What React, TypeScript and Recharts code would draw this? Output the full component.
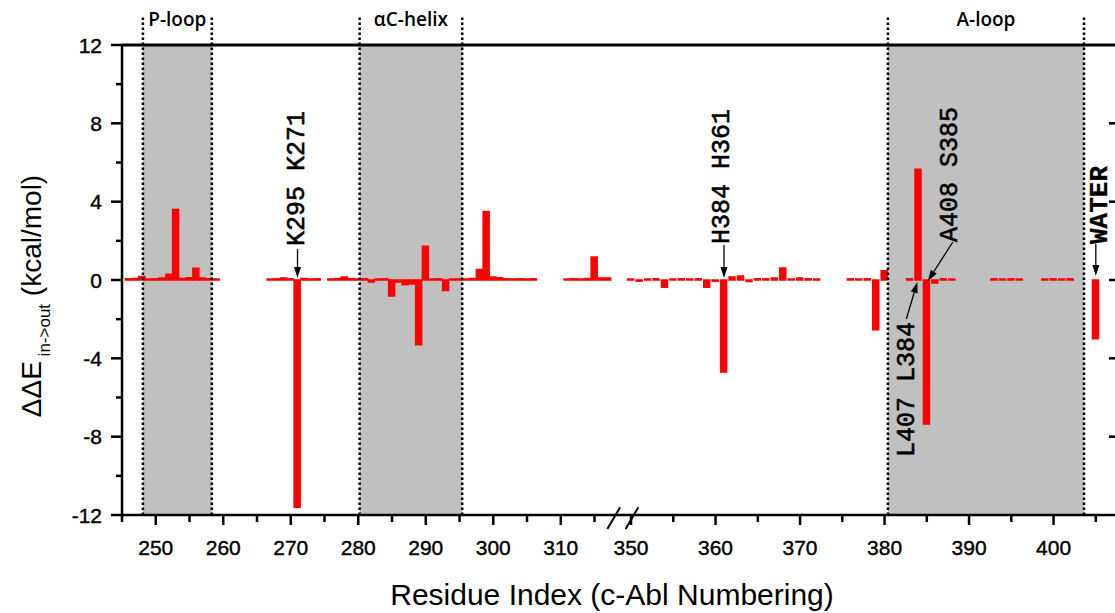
import {
  ComposedChart,
  Bar,
  XAxis,
  YAxis,
  ReferenceArea,
  ReferenceLine,
  ReferenceDot,
} from 'recharts';

// residue numbers (c-Abl numbering) and ΔΔE in->out (kcal/mol)
const residues = [
  246, 247, 248, 249, 250, 251, 252, 253, 254, 255, 256, 257, 258, 259,
  267, 268, 269, 270, 271, 272, 273, 274,
  276, 277, 278, 279, 280, 281, 282, 283, 284, 285, 286, 287, 288, 289, 290, 291, 292, 293,
  294, 295, 296, 297, 298, 299, 300, 301, 302, 303, 304, 305, 306,
  311, 312, 313, 314, 315, 316, 317,
  350, 351, 352, 353, 354, 355, 356, 357, 358, 359, 360, 361, 362, 363, 364, 365, 366, 367,
  368, 369, 370, 371, 372,
  376, 377, 378, 379, 380,
  383, 384, 385, 386, 387, 388,
  393, 394, 395, 396,
  399, 400, 401, 402,
  405,
];
const ddE = [
  0.06, 0.08, 0.18, 0.05, 0.06, 0.1, 0.3, 3.6, 0.08, 0.12, 0.6, 0.1, 0.06, 0.05,
  0.05, 0.06, 0.1, 0.06, -11.6, 0.08, 0.05, 0.06,
  0.05, 0.07, 0.15, 0.06, 0.05, 0.06, -0.1, 0.05, 0.06, -0.82, -0.1, -0.24, -0.2, -3.3, 1.72, 0.05, 0.06, -0.54,
  0.05, 0.06, 0.05, 0.08, 0.53, 3.5, 0.15, 0.12, 0.06, 0.05, 0.06, 0.05, 0.06,
  0.05, 0.06, 0.05, 0.08, 1.17, 0.1, 0.1,
  0.05, -0.06, 0.05, 0.06, -0.37, 0.05, 0.06, 0.05, 0.06, -0.37, -0.06, -4.7, 0.15, 0.2, -0.08, 0.06, 0.06, 0.1,
  0.61, 0.05, 0.1, 0.06, 0.05,
  0.06, 0.05, 0.06, -2.54, 0.47,
  0.06, 5.65, -7.35, -0.15, 0.06, 0.05,
  0.06, 0.05, 0.06, 0.05,
  0.05, 0.06, 0.05, 0.06,
  -3.0,
];

const regionNames = ['P-loop', 'αC-helix', 'A-loop'];
const regionStarts = [248.1, 280.2, 380.4];
const regionEnds = [258.3, 295.4, 403.6];

const xTicksLeft = [245, 250, 255, 260, 265, 270, 275, 280, 285, 290, 295, 300, 305, 310, 315];
const xTicksRight = [350, 355, 360, 365, 370, 375, 380, 385, 390, 395, 400, 405];
const yTicks = [-12, -10, -8, -6, -4, -2, 0, 2, 4, 6, 8, 10, 12];
const yRightTicks = [-8, -4, 0, 4, 8];

const noteResidues = [271, 361, 385, 384, 405];
const noteTexts = ['K295  K271', 'H384  H361', 'A408  S385', 'L407  L384', 'WATER'];

// broken x axis: left piece drawn at 6.75 px/residue, right piece at 8.45 px/residue
const X_MIN = 245;
const X_MAX = 392.4;
const RIGHT_BASE = 350;
const RIGHT_OFFSET = 320.41;
const RIGHT_STRETCH = 8.45 / 6.75;
const toAxis = (r: number) => (r < 330 ? r : RIGHT_OFFSET + (r - RIGHT_BASE) * RIGHT_STRETCH);
const fromAxis = (v: number) => (v < 319 ? v : RIGHT_BASE + (v - RIGHT_OFFSET) / RIGHT_STRETCH);

const TICK_FONT = '"Liberation Sans", Arial, sans-serif';
const NOTE_FONT = '"Liberation Mono", "Courier New", monospace';

const XTick = ({ x, y, payload }: any) => {
  const r = Math.round(fromAxis(payload.value));
  const major = r % 10 === 0;
  return (
    <g>
      <line x1={x} x2={x} y1={y} y2={y + (major ? 10 : 7)} stroke="#000" strokeWidth={2.5} />
      {major && (
        <text x={x} y={y + 40} textAnchor="middle" fontFamily={TICK_FONT} fontSize={21} fill="#000" stroke="#000" strokeWidth={0.4}>
          {r}
        </text>
      )}
    </g>
  );
};

const YTick = ({ x, y, payload }: any) => {
  const major = payload.value % 4 === 0;
  return (
    <g>
      <line x1={x - (major ? 11 : 6)} x2={x} y1={y} y2={y} stroke="#000" strokeWidth={2.5} />
      {major && (
        <text x={x - 20} y={y + 7.5} textAnchor="end" fontFamily={TICK_FONT} fontSize={21} fill="#000" stroke="#000" strokeWidth={0.4}>
          {payload.value}
        </text>
      )}
    </g>
  );
};

const XTitle = () => (
  <text x={612} y={605} textAnchor="middle" fontFamily={TICK_FONT} fontSize={30} fill="#000">
    Residue Index (c-Abl Numbering)
  </text>
);

const YTitle = () => (
  <text transform="translate(41,296) rotate(-90)" textAnchor="middle" fontFamily={TICK_FONT} fontSize={28} fill="#000">
    <tspan>ΔΔE</tspan>
    <tspan fontSize={17} dy={9}> in-&gt;out</tspan>
    <tspan dy={-9}> (kcal/mol)</tspan>
  </text>
);

function Arrow({ x1, y1, x2, y2 }: { x1: number; y1: number; x2: number; y2: number }) {
  const ang = Math.atan2(y2 - y1, x2 - x1);
  const len = 11;
  const half = 3.5;
  const bx = x2 - len * Math.cos(ang);
  const by = y2 - len * Math.sin(ang);
  const px = -Math.sin(ang) * half;
  const py = Math.cos(ang) * half;
  return (
    <g>
      <line x1={x1} y1={y1} x2={bx} y2={by} stroke="#000" strokeWidth={1.3} />
      <polygon points={`${x2},${y2} ${bx + px},${by + py} ${bx - px},${by - py}`} fill="#000" />
    </g>
  );
}

// arrow tail / tip and text anchor, relative to the bar's zero point
const noteLayout = [
  { tip: [0, -2], tail: [0, -31], text: [6, -34], anchor: 'start', bold: false },
  { tip: [0, -2], tail: [0, -35], text: [5, -36], anchor: 'start', bold: false },
  { tip: [1, 1], tail: [26, -38], text: [30, -38], anchor: 'start', bold: false },
  { tip: [-1, 2], tail: [-12, 39], text: [-4, 42], anchor: 'end', bold: false },
  { tip: [0, -4], tail: [0, -36], text: [11, -36], anchor: 'start', bold: true },
];

const makeNote = (i: number) => (props: any) => {
  const { cx, cy } = props;
  const l = noteLayout[i];
  return (
    <g>
      <Arrow x1={cx + l.tail[0]} y1={cy + l.tail[1]} x2={cx + l.tip[0]} y2={cy + l.tip[1]} />
      <text
        transform={`translate(${cx + l.text[0]},${cy + l.text[1]}) rotate(-90)`}
        textAnchor={l.anchor}
        fontFamily={NOTE_FONT}
        fontWeight={l.bold ? 'bold' : 'normal'}
        fontSize={l.bold ? 26 : 25}
        fill="#000"
        stroke="#000"
        strokeWidth={l.bold ? 0.3 : 0.6}
      >
        {noteTexts[i]}
      </text>
    </g>
  );
};

export default function App() {
  const data = residues.map((r, i) => ({ pos: toAxis(r), residue: r, ddE: ddE[i] }));
  const xTicks = [...xTicksLeft, ...xTicksRight].map(toAxis);
  const topOfDots = 12 + 30 / 19.58;
  const rightStub = X_MAX - 8 / 6.75;

  return (
    <div style={{ position: 'absolute', left: 0, top: 0, width: 1115, height: 613, overflow: 'hidden', background: '#fff' }}>
      <ComposedChart width={1125} height={613} data={data} margin={{ top: 45, right: 8, bottom: 0, left: 0 }}>
        <XAxis
          dataKey="pos"
          type="number"
          domain={[X_MIN, X_MAX]}
          allowDataOverflow
          ticks={xTicks}
          interval={0}
          tickSize={0}
          tickMargin={0}
          tick={<XTick />}
          axisLine={{ stroke: '#000', strokeWidth: 2.5 }}
          height={98}
          label={<XTitle />}
        />
        <YAxis
          domain={[-12, 12]}
          ticks={yTicks}
          interval={0}
          tickSize={0}
          tickMargin={0}
          tick={<YTick />}
          axisLine={{ stroke: '#000', strokeWidth: 2.5 }}
          width={122}
          label={<YTitle />}
        />
        {regionNames.map((name, i) => (
          <ReferenceArea
            key={name}
            x1={toAxis(regionStarts[i])}
            x2={toAxis(regionEnds[i])}
            y1={-12}
            y2={12}
            fill="#C0C0C0"
            fillOpacity={1}
            stroke="none"
            label={{
              value: name,
              position: 'top',
              offset: 19,
              fill: '#000',
              fontSize: 19,
              fontWeight: 600,
              fontFamily: '"Open Sans", sans-serif',
            }}
          />
        ))}
        <Bar
          dataKey="ddE"
          fill="#FF0000"
          stroke="#FF0000"
          strokeWidth={1.5}
          barSize={6}
          isAnimationActive={false}
        />
        <ReferenceLine y={12} stroke="#000" strokeWidth={3} ifOverflow="visible" />
        {/* right frame: only the inward tick stubs reach the page edge */}
        {yRightTicks.map((v) => (
          <ReferenceLine
            key={`rt-${v}`}
            segment={[{ x: rightStub, y: v }, { x: X_MAX, y: v }]}
            stroke="#000"
            strokeWidth={2.5}
            ifOverflow="visible"
          />
        ))}
        {regionNames.flatMap((name, i) =>
          [regionStarts[i], regionEnds[i]].map((r, j) => (
            <ReferenceLine
              key={`${name}-${j}`}
              segment={[
                { x: toAxis(r), y: -12 },
                { x: toAxis(r), y: topOfDots },
              ]}
              stroke="#000"
              strokeWidth={2.5}
              strokeDasharray="2.5 2.5"
              ifOverflow="visible"
            />
          ))
        )}
        {/* axis break marks */}
        <ReferenceLine
          segment={[{ x: 316.9, y: -12.72 }, { x: 318.8, y: -11.6 }]}
          stroke="#000"
          strokeWidth={2}
          ifOverflow="visible"
        />
        <ReferenceLine
          segment={[{ x: 319.6, y: -12.72 }, { x: 321.5, y: -11.6 }]}
          stroke="#000"
          strokeWidth={2}
          ifOverflow="visible"
        />
        {noteResidues.map((r, i) => (
          <ReferenceDot
            key={noteTexts[i]}
            x={toAxis(r)}
            y={0}
            r={0}
            ifOverflow="visible"
            shape={makeNote(i)}
          />
        ))}
      </ComposedChart>
    </div>
  );
}
